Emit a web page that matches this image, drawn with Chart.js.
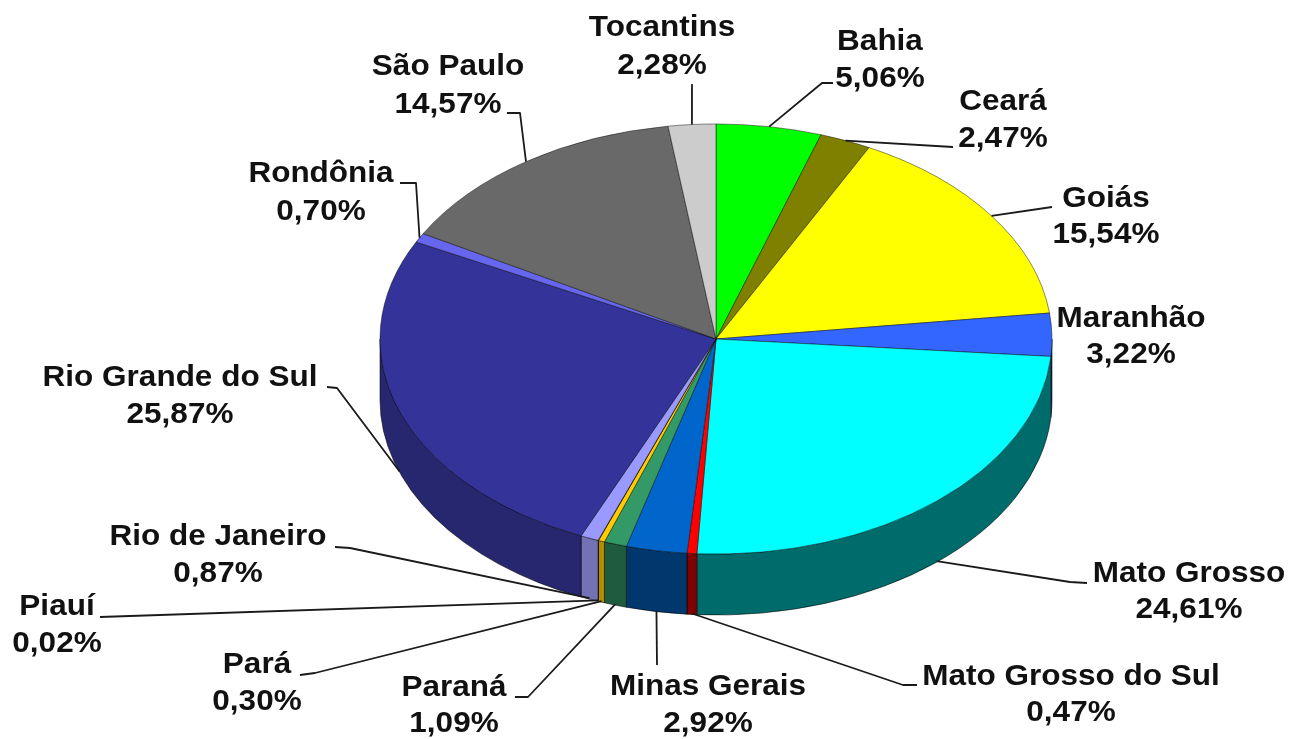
<!DOCTYPE html>
<html lang="pt-BR">
<head>
<meta charset="utf-8">
<title>Participação por estado</title>
<script src="https://cdn.jsdelivr.net/npm/chart.js@4.4.1/dist/chart.umd.min.js"></script>
<style>
  html, body { margin: 0; padding: 0; background: #fff; }
  #wrap { width: 1291px; height: 739px; }
</style>
</head>
<body>
<div id="wrap"><canvas id="pieChart" width="1291" height="739"></canvas></div>
<script>
// Dados (sentido horário a partir do topo)
const estados = ['Bahia', 'Ceará', 'Goiás', 'Maranhão', 'Mato Grosso', 'Mato Grosso do Sul',
    'Minas Gerais', 'Paraná', 'Pará', 'Piauí', 'Rio de Janeiro', 'Rio Grande do Sul',
    'Rondônia', 'São Paulo', 'Tocantins'];
const percentuais = [5.06, 2.47, 15.54, 3.22, 24.61, 0.47, 2.92, 1.09, 0.30, 0.02, 0.87, 25.87, 0.70, 14.57, 2.28];

// Cores do topo e da lateral de cada fatia
const coresTopo = ['#00ff00', '#808000', '#ffff00', '#3366ff', '#00ffff', '#ff0000', '#0066cc',
    '#339966', '#ffcc00', '#993366', '#9999ff', '#333399', '#6666ee', '#696969', '#cccccc'];
const coresLateral = ['#008000', '#404000', '#808000', '#1a3380', '#006b6b', '#800000', '#00386e',
    '#1f5c3d', '#b38f00', '#5c1f3d', '#7272b5', '#27276f', '#4444a0', '#3a3a3a', '#8a8a8a'];

// Rótulos: [x central, linha de base do nome, linha de base do percentual]
const posRotulos = [
    [880, 50, 87], [1003, 110, 147], [1106, 207, 243], [1131, 327, 363], [1189, 582, 618],
    [1071, 685, 721], [708, 695, 732], [454, 696, 732], [257, 673, 710], [57, 615, 652],
    [218, 545, 582], [180, 386, 423], [321, 182, 220], [448, 75, 113], [662, 36, 74]
];
// Linhas guia: pontos do lado do rótulo (o último ponto sai da própria fatia)
const guias = [
    [[833, 83], [822, 83]], [[953, 147]], [[1052, 207]], null, [[1087, 583], [1070, 582]],
    [[917, 685], [903, 685]], [[657, 665]], [[515, 697], [528, 697]], [[300, 675], [315, 673]],
    [[100, 617]], [[335, 547], [350, 548]], [[327, 387], [337, 388]], [[400, 183], [416, 183]],
    [[507, 113], [520, 113]], [[692, 84]]
];

const INCLINACAO = 0.64;   // achatamento vertical do disco
const ESPESSURA = 61;      // altura da lateral em px
const ESTICA = 1.05;       // texto levemente alargado como no original
const FONTE = 'bold 30px "Liberation Sans", Arial, sans-serif';

function formatPct(v) {
    return v.toFixed(2).replace('.', ',') + '%';
}

function texto(ctx, str, x, y) {
    ctx.save();
    ctx.translate(x, y);
    ctx.scale(ESTICA, 1);
    ctx.fillText(str, 0, 0);
    ctx.restore();
}

// Plugin que dá o efeito 3D: lateral desenhada antes, topo achatado
const pizza3d = {
    id: 'pizza3d',
    beforeDatasetsDraw(chart) {
        const ctx = chart.ctx;
        const arcs = chart.getDatasetMeta(0).data;

        ctx.save();
        arcs.forEach((arc, i) => {
            const { x, y, outerRadius: r, startAngle, endAngle } =
                arc.getProps(['x', 'y', 'outerRadius', 'startAngle', 'endAngle'], true);
            const a1 = Math.max(startAngle, 0);
            const a2 = Math.min(endAngle, Math.PI);
            if (a1 >= a2) return;
            const ry = r * INCLINACAO;
            ctx.beginPath();
            ctx.ellipse(x, y, r, ry, 0, a1, a2);
            ctx.lineTo(x + r * Math.cos(a2), y + ry * Math.sin(a2) + ESPESSURA);
            ctx.ellipse(x, y + ESPESSURA, r, ry, 0, a2, a1, true);
            ctx.closePath();
            ctx.fillStyle = coresLateral[i];
            ctx.fill();
            ctx.lineWidth = 1;
            ctx.strokeStyle = 'rgba(0,0,0,0.55)';
            ctx.stroke();
        });
        ctx.restore();

        // achata o topo (restaurado no afterDatasetsDraw)
        const { x, y } = arcs[0];
        ctx.save();
        ctx.translate(x, y);
        ctx.scale(1, INCLINACAO);
        ctx.translate(-x, -y);
    },
    afterDatasetsDraw(chart) {
        const ctx = chart.ctx;
        ctx.restore();

        const arcs = chart.getDatasetMeta(0).data;
        ctx.save();
        ctx.strokeStyle = '#1a1a1a';
        ctx.lineWidth = 1.8;
        ctx.lineJoin = 'round';
        arcs.forEach((arc, i) => {
            if (!guias[i]) return;
            const { x, y, outerRadius: r, startAngle, endAngle } =
                arc.getProps(['x', 'y', 'outerRadius', 'startAngle', 'endAngle'], true);
            const meio = (startAngle + endAngle) / 2;
            const frente = Math.sin(meio) > 0;
            const px = x + r * Math.cos(meio);
            const py = y + r * INCLINACAO * Math.sin(meio) + (frente ? ESPESSURA - 1 : 0);
            ctx.beginPath();
            guias[i].forEach((p, j) => j === 0 ? ctx.moveTo(p[0], p[1]) : ctx.lineTo(p[0], p[1]));
            ctx.lineTo(px, py);
            ctx.stroke();
        });

        ctx.fillStyle = '#111';
        ctx.font = FONTE;
        ctx.textAlign = 'center';
        ctx.textBaseline = 'alphabetic';
        estados.forEach((nome, i) => {
            const [cx, b1, b2] = posRotulos[i];
            texto(ctx, nome, cx, b1);
            texto(ctx, formatPct(percentuais[i]), cx, b2);
        });
        ctx.restore();
    }
};

new Chart(document.getElementById('pieChart'), {
    type: 'pie',
    data: {
        labels: estados,
        datasets: [{
            data: percentuais,
            backgroundColor: coresTopo,
            borderColor: 'rgba(0,0,0,0.55)',
            borderWidth: 1
        }]
    },
    options: {
        responsive: false,
        animation: false,
        events: [],
        radius: 336,
        layout: { padding: { left: 380, right: 239, top: 3, bottom: 64 } },
        plugins: {
            legend: { display: false },
            tooltip: { enabled: false }
        }
    },
    plugins: [pizza3d]
});
</script>
</body>
</html>
